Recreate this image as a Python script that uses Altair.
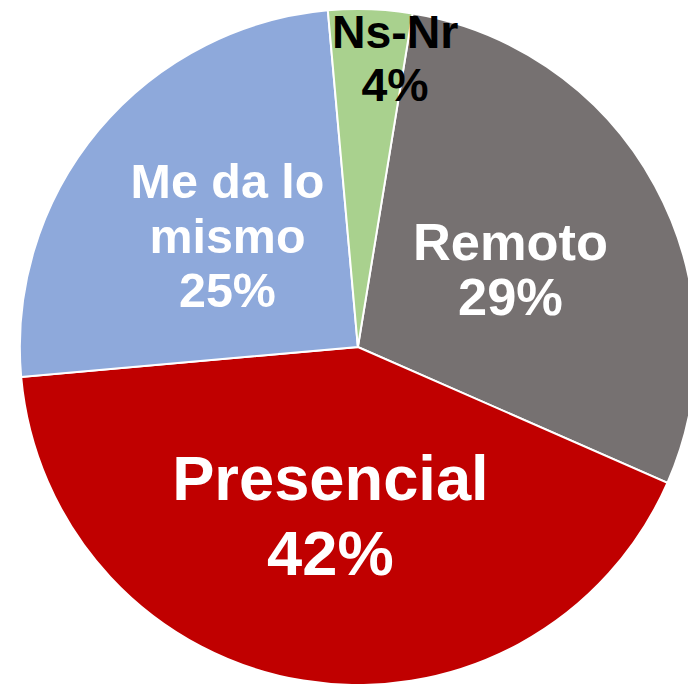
import math
import altair as alt

# Datos
categorias = ["Remoto", "Presencial", "Me da lo mismo", "Ns-Nr"]
porcentajes = [29, 42, 25, 4]
etiquetas = [["Remoto", "29%"], ["Presencial", "42%"], ["Me da lo", "mismo", "25%"], ["Ns-Nr", "4%"]]
colores = ["#767171", "#C00000", "#8EA9DB", "#A9D18E"]
orden = [0, 1, 2, 3]

registros = [
    {"cat": c, "pct": p, "etiqueta": e, "orden": o}
    for c, p, e, o in zip(categorias, porcentajes, etiquetas, orden)
]
data = alt.Data(values=registros)

CX, CY = 354, 339
R = 342
OFF = math.radians(9.3)

theta = alt.Theta("pct:Q", stack=True, scale=alt.Scale(range=[OFF, OFF + 2 * math.pi]))
order = alt.Order("orden:Q")

base = alt.Chart(data)

arc = base.mark_arc(radius=R, stroke="white", strokeWidth=2).encode(
    theta=theta,
    order=order,
    color=alt.Color("cat:N", scale=alt.Scale(domain=categorias, range=colores), legend=None),
    x=alt.value(CX),
    y=alt.value(CY),
)


def etiqueta(cat, nlineas, size, lh, r, color, dx=0, dy=0):
    return base.mark_text(
        radius=r,
        fontSize=size,
        lineHeight=lh,
        font="Liberation Sans",
        fontWeight="bold",
        color=color,
        align="center",
        baseline="middle",
        dx=dx,
        dy=dy - (nlineas - 1) * lh / 2,
    ).encode(
        theta=theta,
        order=order,
        text=alt.condition(alt.datum.cat == cat, alt.Text("etiqueta:N"), alt.value("")),
        x=alt.value(CX),
        y=alt.value(CY),
    )


capas = [
    arc,
    etiqueta("Remoto", 2, 53, 55, 170, "white", dx=5, dy=5),
    etiqueta("Presencial", 2, 64, 75, 172, "white", dy=4),
    etiqueta("Me da lo mismo", 3, 49, 55, 172, "white"),
    etiqueta("Ns-Nr", 2, 47, 53, 291, "black", dx=27, dy=1),
]

chart = (
    alt.layer(*capas)
    .properties(width=688, height=676, autosize="none", padding=0)
    .configure_view(strokeWidth=0)
)

chart.save("out.html", embed_options={"renderer": "svg", "actions": False})
